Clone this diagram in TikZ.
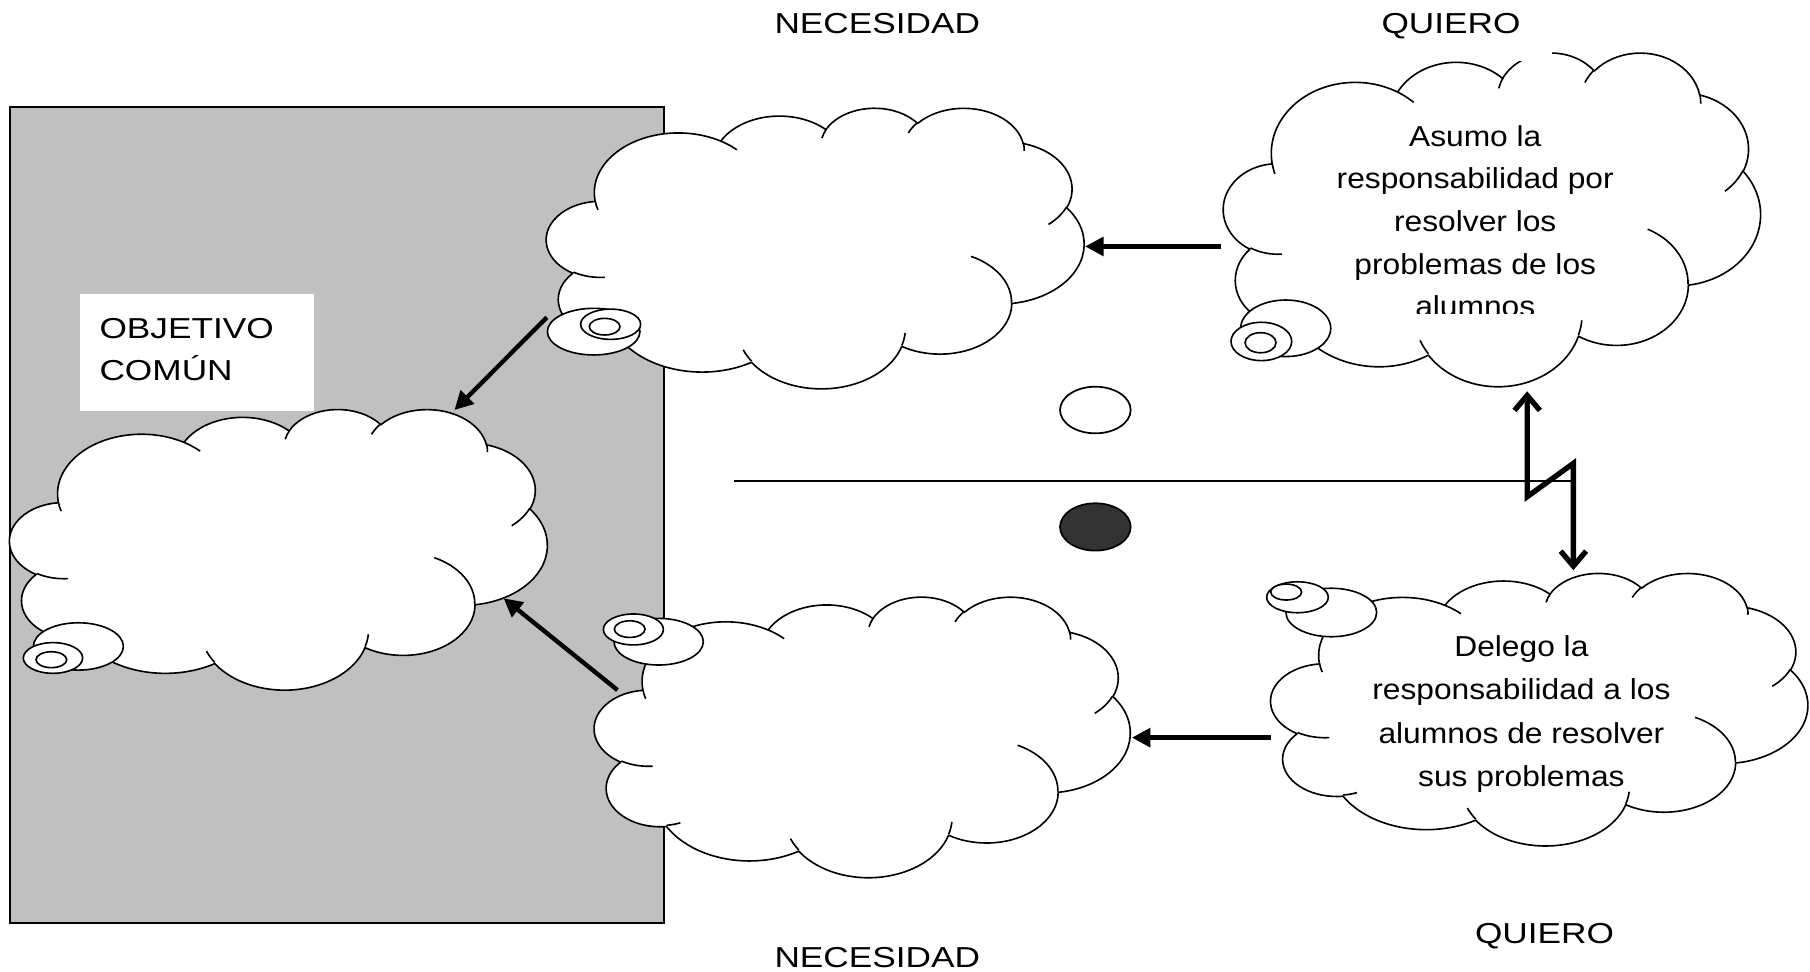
\documentclass[tikz,border=0pt]{standalone}
\usepackage{fontspec}
\setmainfont{Liberation Sans}
\usetikzlibrary{arrows.meta}

\definecolor{panelgray}{RGB}{192,192,192}
\definecolor{darkdot}{RGB}{51,51,51}

% Elliptical arc given by a visual start angle and sweep (as in DrawingML arcTo):
% stores the parametric start angle in \ooS<id> and the sweep in \ooD<id>.
\newcommand\ooarc[5]{%
  \pgfmathsetmacro\ooT{atan2((#2)*sin(#4),(#3)*cos(#4))}%
  \pgfmathsetmacro\ooE{atan2((#2)*sin((#4)+(#5)),(#3)*cos((#4)+(#5)))}%
  \pgfmathsetmacro\ooW{\ooE-\ooT}%
  \pgfmathsetmacro\ooW{\ooW-360*round((\ooW-(#5))/360)}%
  \expandafter\xdef\csname ooS#1\endcsname{\ooT}%
  \expandafter\xdef\csname ooD#1\endcsname{\ooW}%
}
% cloud outline
\ooarc{a}{67.53}{91.90}{-190.48748}{123.78053}
\ooarc{b}{53.33}{72.67}{-144.10238}{89.94523}
\ooarc{c}{43.65}{59.45}{-145.80792}{99.72302}
\ooarc{d}{48.57}{65.95}{-130.98607}{117.24173}
\ooarc{e}{53.33}{72.73}{-78.70888}{109.02692}
\ooarc{f}{67.75}{92.20}{-46.26725}{130.26900}
\ooarc{g}{57.85}{78.67}{0.62502}{114.03333}
\ooarc{h}{67.52}{92.15}{22.45160}{115.17255}
\ooarc{i}{77.20}{105.43}{66.24263}{75.71102}
\ooarc{j}{43.60}{59.18}{-274.94208}{146.73557}
\ooarc{k}{43.45}{59.45}{-246.82850}{152.51885}
% inner creases
\ooarc{A}{43.45}{59.45}{86.74200}{26.42950}
\ooarc{B}{43.60}{59.18}{73.61047}{11.44747}
\ooarc{C}{67.52}{92.15}{137.62415}{14.08110}
\ooarc{D}{67.52}{92.15}{6.45327}{15.99835}
\ooarc{E}{57.85}{78.67}{-70.29235}{70.91737}
\ooarc{F}{53.33}{72.73}{30.31803}{27.75150}
\ooarc{G}{48.57}{65.95}{-13.74433}{14.85890}
\ooarc{H}{48.57}{65.95}{-149.18145}{18.19537}
\ooarc{I}{43.65}{59.45}{-163.49427}{17.68635}
\ooarc{J}{67.53}{91.90}{-66.70695}{12.31935}
\ooarc{K}{67.53}{91.90}{157.65435}{11.85817}

% cloud drawn in a 432 x 432 box
\newcommand\cloudoutline{(39.00,143.70)
  arc[start angle=\ooSa,delta angle=\ooDa,x radius=67.53,y radius=91.90]
  arc[start angle=\ooSb,delta angle=\ooDb,x radius=53.33,y radius=72.67]
  arc[start angle=\ooSc,delta angle=\ooDc,x radius=43.65,y radius=59.45]
  arc[start angle=\ooSd,delta angle=\ooDd,x radius=48.57,y radius=65.95]
  arc[start angle=\ooSe,delta angle=\ooDe,x radius=53.33,y radius=72.73]
  arc[start angle=\ooSf,delta angle=\ooDf,x radius=67.75,y radius=92.20]
  arc[start angle=\ooSg,delta angle=\ooDg,x radius=57.85,y radius=78.67]
  arc[start angle=\ooSh,delta angle=\ooDh,x radius=67.52,y radius=92.15]
  arc[start angle=\ooSi,delta angle=\ooDi,x radius=77.20,y radius=105.43]
  arc[start angle=\ooSj,delta angle=\ooDj,x radius=43.60,y radius=59.18]
  arc[start angle=\ooSk,delta angle=\ooDk,x radius=43.45,y radius=59.45]
  -- cycle}
\newcommand\cloudcreases{
  (46.93,261.77) arc[start angle=\ooSA,delta angle=\ooDA,x radius=43.45,y radius=59.45]
  (69.28,348.99) arc[start angle=\ooSB,delta angle=\ooDB,x radius=43.60,y radius=59.18]
  (164.78,390.90) arc[start angle=\ooSC,delta angle=\ooDC,x radius=67.52,y radius=92.15]
  (288.27,347.51) arc[start angle=\ooSD,delta angle=\ooDD,x radius=67.52,y radius=92.15]
  (341.29,229.54) arc[start angle=\ooSE,delta angle=\ooDE,x radius=57.85,y radius=78.67]
  (417.98,153.54) arc[start angle=\ooSF,delta angle=\ooDF,x radius=53.33,y radius=72.73]
  (383.24,54.26) arc[start angle=\ooSG,delta angle=\ooDG,x radius=48.57,y radius=65.95]
  (290.78,39.52) arc[start angle=\ooSH,delta angle=\ooDH,x radius=48.57,y radius=65.95]
  (221.41,47.20) arc[start angle=\ooSI,delta angle=\ooDI,x radius=43.65,y radius=59.45]
  (140.00,51.92) arc[start angle=\ooSJ,delta angle=\ooDJ,x radius=67.53,y radius=91.90]
  (41.27,157.89) arc[start angle=\ooSK,delta angle=\ooDK,x radius=67.53,y radius=91.90]}

% #1 left, #2 top, #3 width, #4 height
\newcommand\cloudshape[4]{%
  \begin{scope}[shift={(#1,#2)}, xscale=#3/432, yscale=#4/432]
    \filldraw[fill=white, cloudline] \cloudoutline;
    \draw[cloudline] \cloudcreases;
  \end{scope}}

\begin{document}
\begin{tikzpicture}[x=1pt, y=-1pt,
  cloudline/.style={line width=1.4pt, line join=round},
  bubble/.style={fill=white, draw=black, line width=1.4pt},
  lbl/.style={font=\fontsize{25}{30}\selectfont, inner sep=0pt, anchor=base, xscale=1.1},
  caps/.style={lbl, xscale=1.11},
  bigarrow/.style={line width=3.8pt, -{Triangle[length=16pt, width=16pt]}},
  zigzag/.style={line width=4.6pt, line join=miter,
    {Straight Barb[length=13pt, width=22pt]}-{Straight Barb[length=13pt, width=22pt]}},
  dot/.style={draw=black, line width=1.5pt}]

\useasboundingbox (0,0) rectangle (1568,842);
\fill[white] (0,0) rectangle (1568,842);

% shared goal panel
\filldraw[fill=panelgray, draw=black, line width=1.4pt] (8.7,92.7) rectangle (575.2,799.6);
\fill[white] (69.5,254.5) rectangle (272,355.8);
\node[caps, anchor=base west] (goal1) at (86,293) {OBJETIVO};
\node[caps, anchor=base west] (goal2) at (86,329.8) {COMÚN};

% need, top
\cloudshape{473.5}{93}{465.5}{243}
\draw[bubble] (514.3,287.3) ellipse[x radius=40.1, y radius=20.2];
\draw[bubble] (529,280.9) ellipse[x radius=26, y radius=13.1];
\draw[bubble] (523.8,283) ellipse[x radius=13.3, y radius=7.2];

% common goal
\cloudshape{8.5}{354}{465.5}{243}
\draw[bubble] (67.9,560) ellipse[x radius=39, y radius=20.5];
\draw[bubble] (45.9,570) ellipse[x radius=25.7, y radius=13.3];
\draw[bubble] (44.5,571.5) ellipse[x radius=13.3, y radius=6.9];

% need, bottom
\cloudshape{515}{516.5}{464}{243}
\draw[bubble] (570.6,555.9) ellipse[x radius=38.7, y radius=20.2];
\draw[bubble] (548.7,545.3) ellipse[x radius=26, y radius=13.4];
\draw[bubble] (545.5,545) ellipse[x radius=13.3, y radius=7.2];

% want, top
\cloudshape{1060}{45}{465}{289}
\draw[bubble] (1113.8,284.4) ellipse[x radius=39, y radius=24.5];
\draw[bubble] (1092.7,295.8) ellipse[x radius=26.3, y radius=16.6];
\draw[bubble] (1092,296.9) ellipse[x radius=13.4, y radius=8.7];

% want, bottom
\cloudshape{1101}{496}{465}{236}
\draw[bubble] (1153.3,530.6) ellipse[x radius=39.3, y radius=21];
\draw[bubble] (1124,517.4) ellipse[x radius=26.7, y radius=13.4];
\draw[bubble] (1114.2,512.9) ellipse[x radius=13.4, y radius=6.9];

% header boxes
\fill[white] (1165,-1) rectangle (1344.6,53.2);
\node[caps] (necTop) at (760,29) {NECESIDAD};
\node[caps] (quiTop) at (1257,29) {QUIERO};
\node[caps] (necBot) at (760,838) {NECESIDAD};
\node[caps] (quiBot) at (1338,817) {QUIERO};

% text of the upper "want" cloud
\node[lbl] (asu1) at (1278,126.5) {Asumo la};
\node[lbl] (asu2) at (1278,163.2) {responsabilidad por};
\node[lbl] (asu3) at (1278,200.7) {resolver los};
\node[lbl] (asu4) at (1278,237.4) {problemas de los};
\begin{scope}
  \clip (1150,240) rectangle (1410,271.8);
  \node[lbl] (asu5) at (1278,274.3) {alumnos};
\end{scope}

% text of the lower "want" cloud
\node[lbl] (del1) at (1318,568.9) {Delego la};
\node[lbl] (del2) at (1318,606.4) {responsabilidad a los};
\node[lbl] (del3) at (1318,644) {alumnos de resolver};
\node[lbl] (del4) at (1318,681.5) {sus problemas};

% connectors
\coordinate (aIn) at (940,213.5);
\coordinate (dOut) at (1058,213.5);
\coordinate (cIn) at (980.5,639);
\coordinate (eOut) at (1101,639);
\coordinate (aOut) at (473.8,274.9);
\coordinate (bInTop) at (393.7,355.2);
\coordinate (cOut) at (534.9,597.8);
\coordinate (bInSide) at (436.3,518.3);
\draw[bigarrow] (dOut) -- (aIn);
\draw[bigarrow] (eOut) -- (cIn);
\draw[bigarrow] (aOut) -- (bInTop);
\draw[bigarrow] (cOut) -- (bInSide);

% divider, tension symbol and markers
\coordinate (divL) at (636,416.4);
\coordinate (divR) at (1363,416.4);
\draw[line width=1.7pt] (divL) -- (divR);
\coordinate (zUp) at (1323,339);
\coordinate (zK1) at (1323,430.3);
\coordinate (zK2) at (1363,401.4);
\coordinate (zDn) at (1363,494);
\draw[zigzag] (zUp) -- (zK1) -- (zK2) -- (zDn);
\coordinate (dotW) at (948.9,355.2);
\coordinate (dotB) at (948.9,456.5);
\filldraw[dot, fill=white] (dotW) ellipse[x radius=30.6, y radius=20.2];
\filldraw[dot, fill=darkdot] (dotB) ellipse[x radius=30.6, y radius=20.5];
\end{tikzpicture}
\end{document}
